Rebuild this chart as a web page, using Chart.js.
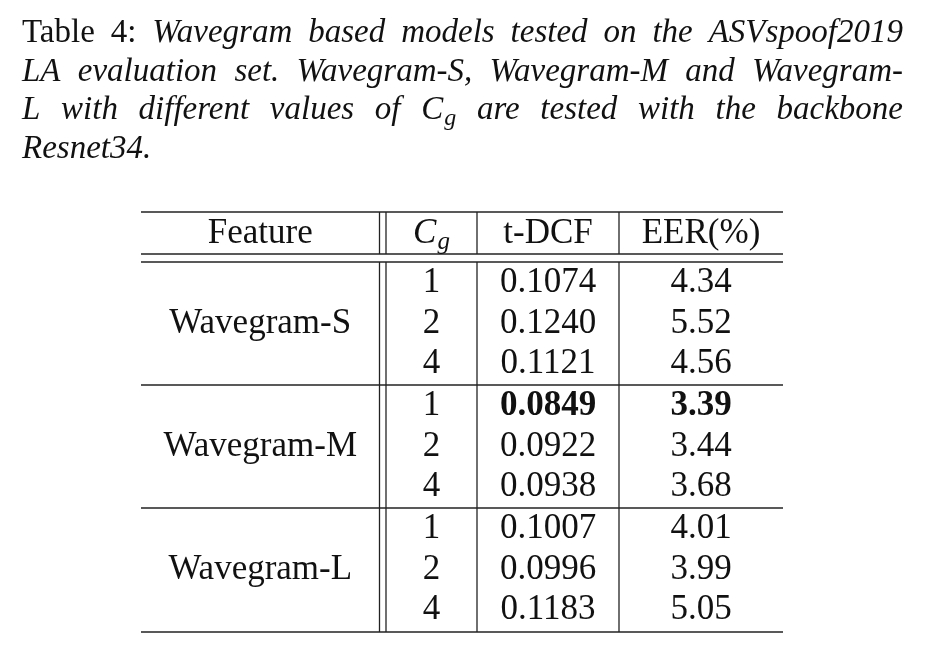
<!DOCTYPE html>
<html>
<head>
<meta charset="utf-8">
<script src="https://cdn.jsdelivr.net/npm/chart.js@4"></script>
<style>
html,body{margin:0;padding:0;background:#fff;}
canvas{display:block;}
</style>
</head>
<body>
<canvas id="c" width="951" height="662"></canvas>
<script>
// ---------------- data ----------------
const captionLabel = 'Table 4:';
const captionLines = [
  'Wavegram based models tested on the ASVspoof2019',
  'LA evaluation set. Wavegram-S, Wavegram-M and Wavegram-',
  'L with different values of {Cg} are tested with the backbone',
  'Resnet34.'
];
const headers = ['Feature', 'Cg', 't-DCF', 'EER(%)'];
const features = ['Wavegram-S', 'Wavegram-M', 'Wavegram-L'];
const cgValues = ['1', '2', '4', '1', '2', '4', '1', '2', '4'];
const tdcf = [0.1074, 0.1240, 0.1121, 0.0849, 0.0922, 0.0938, 0.1007, 0.0996, 0.1183];
const eer  = [4.34, 5.52, 4.56, 3.39, 3.44, 3.68, 4.01, 3.99, 5.05];
const bestRow = 3;

// ---------------- layout (px units on the linear scales) ----------------
const W = 951, H = 662;
const FONT = '"Liberation Serif", "Times New Roman", serif';
const FS = 33;      // caption
const TFS = 35;     // table
const capLeft = 22, capRight = 903;
const capBase = [42, 80.5, 119, 157.5];
const tblL = 141, tblR = 783;
const vDbl1 = 379.5, vDbl2 = 386, vCol2 = 477, vCol3 = 619;
const hTop = 212, hHead1 = 254, hHead2 = 262, hBottom = 632;
const rowH = 41;
const colCenter = [(tblL + vDbl1) / 2, (vDbl2 + vCol2) / 2, (vCol2 + vCol3) / 2, (vCol3 + tblR) / 2];
const headBase = 243;
function rowBase(i) { const sec = Math.floor(i / 3), r = i % 3; return hHead2 + sec * 3 * rowH + 30 + r * 40.5; }
const sectionLines = [hHead2 + 3 * rowH, hHead2 + 6 * rowH];

const ink = '#111';

const tablePlugin = {
  id: 'tablePlugin',
  afterDraw(chart) {
    const ctx = chart.ctx, xs = chart.scales.x, ys = chart.scales.y;
    const X = v => xs.getPixelForValue(v), Y = v => ys.getPixelForValue(v);
    ctx.save();
    ctx.fillStyle = ink;
    ctx.textBaseline = 'alphabetic';

    // ---- caption (justified) ----
    const norm = FS + 'px ' + FONT, ital = 'italic ' + FS + 'px ' + FONT;
    const subFont = 'italic ' + Math.round(FS * 0.72) + 'px ' + FONT;
    function wordWidth(w) {
      if (w.math) { ctx.font = ital; const a = ctx.measureText('C').width; ctx.font = subFont; return a + 1 + ctx.measureText('g').width; }
      ctx.font = w.font; return ctx.measureText(w.text).width;
    }
    function drawWord(w, x, y) {
      if (w.math) {
        ctx.font = ital; ctx.fillText('C', x, y); const a = ctx.measureText('C').width;
        ctx.font = subFont; ctx.fillText('g', x + a + 1, y + 6); return;
      }
      ctx.font = w.font; ctx.fillText(w.text, x, y);
    }
    captionLines.forEach((line, li) => {
      let words = [];
      if (li === 0) captionLabel.split(' ').forEach(t => words.push({ text: t, font: norm }));
      line.split(' ').forEach(t => {
        if (t === '{Cg}') words.push({ math: true });
        else words.push({ text: t, font: ital });
      });
      const widths = words.map(wordWidth);
      const total = widths.reduce((a, b) => a + b, 0);
      const last = li === captionLines.length - 1;
      ctx.font = ital;
      const gap = last ? ctx.measureText(' ').width : (X(capRight) - X(capLeft) - total) / (words.length - 1);
      let x = X(capLeft);
      const y = Y(capBase[li]);
      words.forEach((w, i) => { drawWord(w, x, y); x += widths[i] + gap; });
    });

    // ---- rules ----
    ctx.strokeStyle = '#222';
    ctx.lineWidth = 1.3;
    function hl(y) { ctx.beginPath(); ctx.moveTo(X(tblL), Y(y)); ctx.lineTo(X(tblR), Y(y)); ctx.stroke(); }
    function vl(x, y0, y1) { ctx.beginPath(); ctx.moveTo(X(x), Y(y0)); ctx.lineTo(X(x), Y(y1)); ctx.stroke(); }
    [hTop, hHead1, hHead2, ...sectionLines, hBottom].forEach(hl);
    [vDbl1, vDbl2, vCol2, vCol3].forEach(x => { vl(x, hTop, hHead1); vl(x, hHead2, hBottom); });

    // ---- header ----
    const tnorm = TFS + 'px ' + FONT, tital = 'italic ' + TFS + 'px ' + FONT;
    const tsub = 'italic ' + Math.round(TFS * 0.72) + 'px ' + FONT;
    ctx.textAlign = 'center';
    ctx.font = tnorm;
    ctx.fillText(headers[0], X(colCenter[0]), Y(headBase));
    ctx.fillText(headers[2], X(colCenter[2]), Y(headBase));
    ctx.fillText(headers[3], X(colCenter[3]), Y(headBase));
    // C_g header
    ctx.font = tital; const cw = ctx.measureText('C').width;
    ctx.font = tsub; const gw = ctx.measureText('g').width;
    const cx0 = X(colCenter[1]) - (cw + 1 + gw) / 2;
    ctx.textAlign = 'left';
    ctx.font = tital; ctx.fillText('C', cx0, Y(headBase));
    ctx.font = tsub; ctx.fillText('g', cx0 + cw + 1, Y(headBase) + 6);

    // ---- feature names ----
    ctx.textAlign = 'center';
    ctx.font = tnorm;
    features.forEach((f, s) => ctx.fillText(f, X(colCenter[0]), Y(rowBase(s * 3 + 1))));

    // ---- numeric cells from dataset elements ----
    chart.data.datasets.forEach((ds, di) => {
      const meta = chart.getDatasetMeta(di);
      meta.data.forEach((el, i) => {
        const raw = ds.data[i];
        ctx.font = (raw.bold ? 'bold ' : '') + TFS + 'px ' + FONT;
        ctx.fillText(raw.label, el.x, el.y);
      });
    });
    ctx.restore();
  }
};

const mkPoints = (vals, col, fmt, boldable) => vals.map((v, i) => ({
  x: colCenter[col], y: rowBase(i), label: fmt(v), bold: boldable && i === bestRow
}));

new Chart(document.getElementById('c'), {
  type: 'scatter',
  data: {
    datasets: [
      { label: 'Cg', data: mkPoints(cgValues, 1, v => v, false), pointRadius: 0 },
      { label: 't-DCF', data: mkPoints(tdcf, 2, v => v.toFixed(4), true), pointRadius: 0 },
      { label: 'EER', data: mkPoints(eer, 3, v => v.toFixed(2), true), pointRadius: 0 }
    ]
  },
  options: {
    responsive: false,
    animation: false,
    devicePixelRatio: 1,
    layout: { padding: 0 },
    plugins: { legend: { display: false }, tooltip: { enabled: false } },
    scales: {
      x: { type: 'linear', min: 0, max: W, display: false },
      y: { type: 'linear', min: 0, max: H, reverse: true, display: false }
    }
  },
  plugins: [tablePlugin]
});
</script>
</body>
</html>
